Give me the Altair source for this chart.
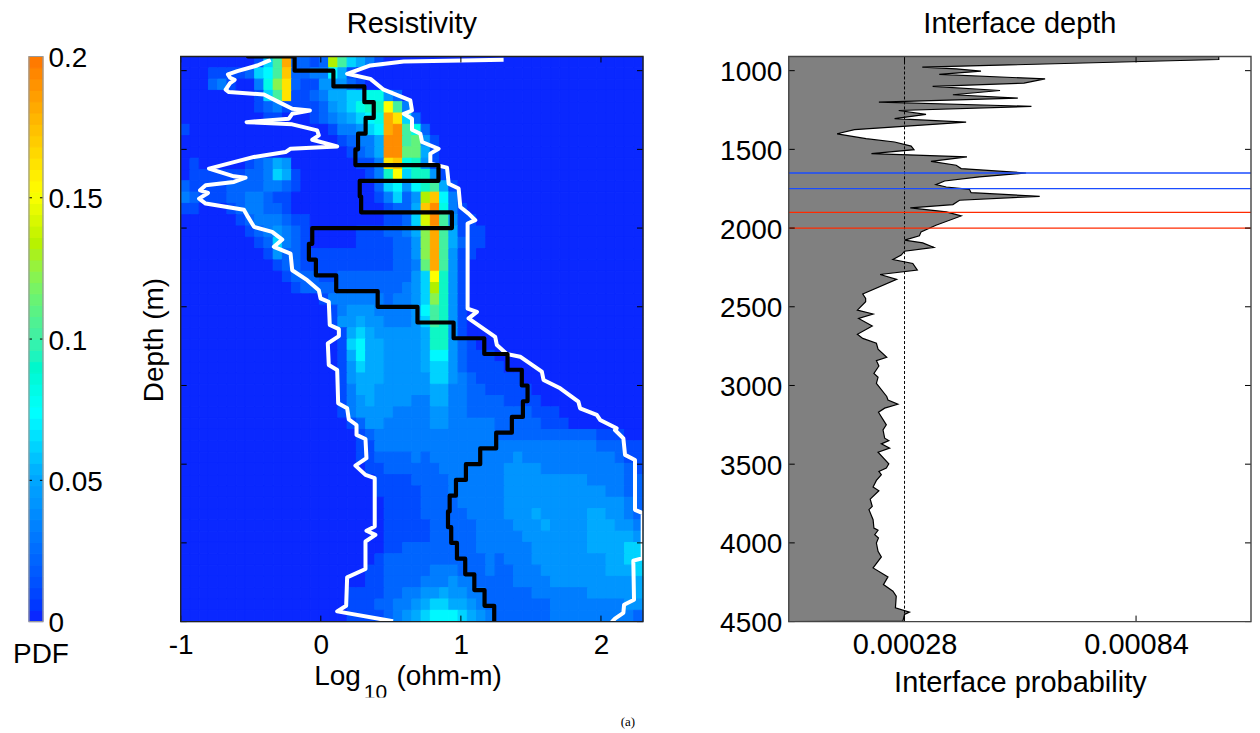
import altair as alt
import pandas as pd

FONT = "Liberation Sans"
FS = 28
W, H = 463, 566

# PDF grid: one character per cell, level = value / 0.01 (0-9, a=10 ... k=20)
pdf_rows = [
"0000000016 ai2212da65 3100000000 0000000000 0000000000",
"0001111267 ah22337510 0000000000 0000000000 0000000000",
"0002310038 cg21144421 0000000000 0000000000 0000000000",
"0000000016 ag11235566 8842000000 0000000000 0000000000",
"0000000012 3111124568 99fa300000 0000000000 0000000000",
"0000000001 1000123456 78ig620000 0000000000 0000000000",
"1000000000 0000001334 67ija82000 0000000000 0000000000",
"0000000000 0000000123 35jjab4100 0000000000 0000000000",
"0000000000 0000000012 35jjbb5100 0000000000 0000000000",
"0100000123 5400000001 13gh894100 0000000000 0000000000",
"0111111223 6510000000 139f699410 0000000000 0000000000",
"2111122223 3210000000 0267479a51 0000000000 0000000000",
"3211122332 1100000000 013624dh73 0000000000 0000000000",
"1100012332 2100000000 001225hj83 1000000000 0000000000",
"0000001233 3211000000 001126eja4 1100000000 0000000000",
"0000000123 4321000001 112235cia5 1110000000 0000000000",
"0000000012 6321000001 111224cia5 2110000000 0000000000",
"0000000001 4221111111 111224cia4 1100000000 0000000000",
"0000000000 1221111111 111223bia4 1000000000 0000000000",
"0000000000 0122211222 2222246f94 1000000000 0000000000",
"0000000000 0012222222 2222346d94 1000000000 0000000000",
"0000000000 0000013333 3323346c94 1000000000 0000000000",
"0000000000 0000001344 4333347a94 1000000000 0000000000",
"0000000000 0000001445 4433346a94 1000000000 0000000000",
"0000000000 0000000156 5444445994 1000000000 0000000000",
"0000000000 0000000167 5544445994 2100000000 0000000000",
"0000000000 0000000157 5544445774 2111000000 0000000000",
"0000000000 0000000146 5544445664 2111100000 0000000000",
"0000000000 0000000145 5544444664 3211111000 0000000000",
"0000000000 0000000135 5444444553 3221111100 0000000000",
"0000000000 0000000134 5444433553 3222211110 0000000000",
"0000000000 0000000134 4443333443 3222222211 1000000000",
"0000000000 0000000012 4433333443 3333222221 1100000000",
"0000000000 0000000001 2333333333 3333222222 2222211100",
"0000000000 0000000001 1333333333 3333333333 3333322211",
"0000000000 0000000001 1222232333 3333334333 3333333211",
"0000000000 0000000000 1122222233 3333344443 3333333321",
"0000000000 0000000000 0111122223 3333344444 4444333322",
"0000000000 0000000000 0111112223 3333344444 4444443322",
"0000000000 0000000000 0011112222 3333344444 4444444432",
"0000000000 0000000000 0011112222 2333344454 4444554432",
"0000000000 0000000000 0011111222 2233334445 4444555443",
"0000000000 0000000000 0011111222 2233333444 4444555554",
"0000000000 0000000000 0011222222 2233333344 4444555566",
"0000000000 0000000000 0122222222 2223233344 4444445566",
"0000000000 0000000000 1122222333 2223223334 4444445556",
"0000000000 0000000000 1122223334 3322223333 4444444445",
"0000000000 0000000011 1122334454 4332222233 3333444445",
"0000000000 0000000011 1223345665 5432222222 3333333344",
"0000000000 0000000011 1123456777 6543222222 3333333332",
]

# mean resistivity per 100 m layer (layer k spans black_depth[k]..black_depth[k+1])
black_depth = [900, 910, 1000, 1100, 1200, 1300, 1400, 1500, 1600, 1700, 1800, 1900, 2000, 2100, 2200, 2300, 2400,
               2500, 2600, 2700, 2800, 2900, 3000, 3100, 3200, 3300, 3400, 3500, 3600, 3700, 3800, 3900,
               4000, 4100, 4200, 4300, 4400, 4500]
black_log = [-0.52, -0.187, 0.09, 0.311, 0.378, 0.32, 0.266, 0.247, 0.84, 0.278, 0.288, 0.936, -0.061, -0.085,
             -0.035, 0.11, 0.406, 0.69, 0.948, 1.167, 1.333, 1.435, 1.476, 1.443, 1.364, 1.252, 1.138, 1.036,
             0.965, 0.92, 0.908, 0.931, 0.972, 1.031, 1.096, 1.169, 1.238]

left_log = [-0.358, -0.454, -0.596, -0.663, -0.648, -0.615, -0.648, -0.679, -0.656, -0.406, -0.299, -0.204, -0.078,
            -0.204, -0.228, -0.530, -0.204, -0.026, -0.014, -0.061, 0.117, -0.216, -0.252, -0.477, -0.798, -0.620,
            -0.537, -0.620, -0.822, -0.862, -0.805, -0.869, -0.822, -0.549, -0.520, -0.477, -0.347, -0.275, -0.335,
            -0.216, -0.204, -0.097, -0.014, -0.002, 0.057, 0.064, 0.129, 0.129, 0.050, 0.057, 0.117, 0.124, 0.188,
            0.200, 0.255, 0.255, 0.319, 0.326, 0.247, 0.319, 0.385, 0.385, 0.326, 0.390, 0.319, 0.319, 0.188, 0.181,
            0.117, 0.516]
left_depth = [931, 967, 1003, 1024, 1045, 1058, 1079, 1121, 1136, 1151, 1200, 1242, 1253, 1274, 1305, 1327, 1341, 1379,
              1411, 1439, 1481, 1496, 1517, 1548, 1622, 1671, 1680, 1707, 1728, 1760, 1777, 1813, 1844, 1883, 1929,
              1992, 2024, 2073, 2119, 2162, 2268, 2331, 2395, 2447, 2469, 2616, 2642, 2686, 2733, 2870, 2902, 3113,
              3145, 3215, 3251, 3314, 3340, 3462, 3509, 3568, 3589, 3896, 3923, 3949, 3991, 4166, 4219, 4399, 4435,
              4498]

right_log = [1.305, 1.008, 0.592, 0.354, 0.188, 0.354, 0.449, 0.639, 0.651, 0.592, 0.651, 0.651, 0.711, 0.723, 0.841,
             0.782, 0.782, 0.901, 0.913, 0.984, 0.996, 1.055, 1.103, 1.048, 1.048, 1.115, 1.055, 1.245, 1.257, 1.328,
             1.423, 1.578, 1.590, 1.709, 1.839, 1.851, 1.970, 1.994, 2.112, 2.100, 2.160, 2.172, 2.243, 2.243, 2.298,
             2.298, 2.231, 2.236, 2.165, 2.160, 2.100, 2.077]
right_depth = [931, 935, 942, 967, 1020, 1052, 1121, 1189, 1253, 1274, 1305, 1375, 1401, 1453, 1496, 1527, 1591, 1616,
               1718, 1749, 1866, 1908, 1950, 1971, 2511, 2532, 2574, 2691, 2743, 2800, 2817, 2912, 2965, 3018, 3103,
               3145, 3187, 3219, 3272, 3283, 3336, 3441, 3473, 3790, 3811, 4097, 4113, 4361, 4393, 4445, 4481, 4503]

# interface probability, in units of 1e-5
prob_vals = [104.0, 104.0, 32.3, 40.5, 46.5, 36.4, 62.0, 56.9, 34.8, 51.1, 39.7, 55.4, 21.8, 58.7, 26.6, 33.2, 25.6,
             42.9, 27.6, 15.9, 11.7, 18.7, 25.6, 29.6, 30.3, 20.0, 43.1, 34.4, 40.5, 41.7, 57.4, 46.1, 37.7, 35.6,
             38.1, 43.7, 44.1, 60.7, 41.3, 39.7, 29.4, 38.1, 41.7, 35.6, 32.0, 31.6, 28.0, 32.4, 35.1, 28.0, 27.2,
             25.2, 30.0, 31.1, 22.1, 26.1, 17.9, 18.6, 18.6, 16.6, 20.4, 16.9, 20.2, 16.6, 17.9, 21.2, 21.6, 23.7,
             21.2, 21.8, 20.6, 21.6, 21.2, 23.7, 24.0, 26.4, 23.2, 21.7, 23.6, 22.8, 23.2, 24.2, 22.4, 24.4, 21.6,
             24.2, 23.6, 21.8, 22.4, 21.2, 20.4, 21.8, 19.7, 20.2, 19.4, 20.4, 20.6, 21.6, 20.8, 21.7, 21.2, 21.6,
             22.4, 20.4, 24.0, 22.9, 25.2, 26.0, 25.8, 29.2, 28.0, 27.6, 0.0]
prob_depth = [910, 929, 978, 988, 1003, 1024, 1052, 1079, 1100, 1126, 1153, 1174, 1200, 1227, 1253, 1278, 1305, 1327,
              1354, 1375, 1401, 1432, 1453, 1479, 1502, 1527, 1548, 1576, 1601, 1622, 1650, 1675, 1701, 1724, 1739,
              1754, 1775, 1798, 1823, 1851, 1872, 1897, 1923, 1982, 2024, 2049, 2077, 2094, 2123, 2147, 2172, 2200,
              2225, 2267, 2295, 2326, 2419, 2447, 2468, 2521, 2546, 2574, 2622, 2675, 2701, 2732, 2770, 2821, 2842,
              2876, 2923, 2948, 2986, 3070, 3092, 3119, 3144, 3170, 3250, 3282, 3335, 3350, 3371, 3398, 3424, 3498,
              3525, 3546, 3567, 3603, 3645, 3669, 3722, 3768, 3789, 3853, 3906, 3920, 3948, 3969, 4001, 4054, 4089,
              4159, 4216, 4265, 4307, 4339, 4413, 4440, 4455, 4497, 4500]

depth_ticks = [1000, 1500, 2000, 2500, 3000, 3500, 4000, 4500]
log_ticks = [-1, 0, 1, 2]
prob_ticks = [0.00028, 0.00084]
cbar_ticks = [0, 0.05, 0.1, 0.15, 0.2]
blue_depths = [1650, 1750]
red_depths = [1900, 2000]

cmap_dom = [0, 0.025, 0.05, 0.072, 0.1, 0.13, 0.15, 0.2]
cmap_rng = ["#0a28ff", "#0070ff", "#00aaff", "#00ffff", "#44f0a0", "#b0f000", "#ffff00", "#ff6e00"]

LOG_DOM = [-1, 2.3]
DEPTH_DOM = [4500, 910]
PROB_DOM = [0, 0.001118]
NROW, NCOL = 50, 50

color_scale = alt.Scale(domain=cmap_dom, range=cmap_rng, clamp=True)
xlog = alt.Scale(domain=LOG_DOM, nice=False, zero=False)
ydep = alt.Scale(domain=DEPTH_DOM, nice=False, zero=False)
xprob = alt.Scale(domain=PROB_DOM, nice=False, zero=False)

# grid table
cells = []
dx = (LOG_DOM[1] - LOG_DOM[0]) / NCOL
dy = (DEPTH_DOM[0] - DEPTH_DOM[1]) / NROW
for j, r in enumerate(pdf_rows):
    for i, c in enumerate(r.replace(" ", "")):
        cells.append({"x": LOG_DOM[0] + i * dx, "x2": LOG_DOM[0] + (i + 1) * dx,
                      "y": DEPTH_DOM[1] + j * dy, "y2": DEPTH_DOM[1] + (j + 1) * dy,
                      "p": int(c, 36) * 0.01})
cells = pd.DataFrame(cells)


def frame(w, h, color="#222222", sw=1.4, x0=0):
    return alt.Chart(pd.DataFrame({"a": [0]})).mark_rect(fillOpacity=0, stroke=color, strokeWidth=sw).encode(
        x=alt.value(x0), x2=alt.value(w), y=alt.value(0), y2=alt.value(h))


def yticks(vals, scale, w, L=6):
    d = pd.DataFrame({"d": vals})
    a = alt.Chart(d).mark_rule(color="black", strokeWidth=1).encode(
        y=alt.Y("d:Q", scale=scale), x=alt.value(0), x2=alt.value(L))
    b = alt.Chart(d).mark_rule(color="black", strokeWidth=1).encode(
        y=alt.Y("d:Q", scale=scale), x=alt.value(w - L), x2=alt.value(w))
    return a + b


def xticks(vals, scale, h, L=6):
    d = pd.DataFrame({"v": vals})
    a = alt.Chart(d).mark_rule(color="black", strokeWidth=1).encode(
        x=alt.X("v:Q", scale=scale), y=alt.value(0), y2=alt.value(L))
    b = alt.Chart(d).mark_rule(color="black", strokeWidth=1).encode(
        x=alt.X("v:Q", scale=scale), y=alt.value(h - L), y2=alt.value(h))
    return a + b


def poly(xs, ys, color, sw):
    d = pd.DataFrame({"x": xs, "y": ys, "i": range(len(xs))})
    return alt.Chart(d).mark_line(color=color, strokeWidth=sw, clip=True, strokeJoin="round").encode(
        x=alt.X("x:Q", scale=xlog, title=None), y=alt.Y("y:Q", scale=ydep, title=None), order="i:Q")


def txt(text, x, y, size=FS, font=FONT, align="center", angle=0):
    return alt.Chart(pd.DataFrame({"t": [text]})).mark_text(
        font=font, fontSize=size, align=align, baseline="alphabetic", color="black", angle=angle).encode(
        x=alt.value(x), y=alt.value(y), text="t:N")


# colour bar: panel is 6 px wide, so all the gaps between panels are equal; the bar runs over it to 14 px
cb_rows = pd.DataFrame({"p": [i * 0.004 for i in range(50)]})
cb_rows["top"] = cb_rows["p"] + 0.004
cb_scale = alt.Scale(domain=[0, 0.2], nice=False, zero=False)
cb = alt.Chart(cb_rows).mark_rect().encode(
    y=alt.Y("p:Q", scale=cb_scale, axis=alt.Axis(orient="right", offset=8, values=cbar_ticks, tickSize=0, domain=False,
            grid=False, labelFont=FONT, labelFontSize=FS, labelColor="black", labelPadding=5, title=None,
            labelExpr="datum.value", labelOverlap=False, labelFlush=False, labelOffset=2)),
    y2="top:Q",
    x=alt.value(0), x2=alt.value(14),
    color=alt.Color("p:Q", scale=color_scale, legend=None),
    stroke=alt.Stroke("p:Q", scale=color_scale, legend=None),
)
cb_tick_d = pd.DataFrame({"p": cbar_ticks[1:-1]})
cb_ticks = (alt.Chart(cb_tick_d).mark_rule(color="black", strokeWidth=1).encode(
                y=alt.Y("p:Q", scale=cb_scale), x=alt.value(0), x2=alt.value(3))
            + alt.Chart(cb_tick_d).mark_rule(color="black", strokeWidth=1).encode(
                y=alt.Y("p:Q", scale=cb_scale), x=alt.value(11), x2=alt.value(14)))
cbar = alt.layer(cb, cb_ticks, frame(14, H, "#999999", 1.2), txt("PDF", 12, H + 41)).properties(width=6, height=H)

# resistivity panel
heat = alt.Chart(cells).mark_rect().encode(
    x=alt.X("x:Q", scale=xlog, axis=alt.Axis(values=log_ticks, tickSize=0, domain=False, grid=False, labelFont=FONT,
            labelFontSize=FS, labelColor="black", labelPadding=10, title=None, labelFlush=False, labelExpr="datum.value")),
    x2="x2:Q",
    y=alt.Y("y:Q", scale=ydep, axis=None),
    y2="y2:Q",
    color=alt.Color("p:Q", scale=color_scale, legend=None),
    stroke=alt.Stroke("p:Q", scale=color_scale, legend=None),
)
bx = [v for v in black_log for _ in (0, 1)]
by = [d for k in range(len(black_log)) for d in (black_depth[k], black_depth[k + 1])]
# the subscript's foot is cut off in the reference
sub_cut = alt.Chart(pd.DataFrame({"a": [0]})).mark_rect(color="white").encode(
    x=alt.value(180), x2=alt.value(212), y=alt.value(H + 76), y2=alt.value(H + 82))
mid = alt.layer(
    heat,
    poly(left_log, left_depth, "white", 4),
    poly(right_log, right_depth, "white", 4),
    poly(bx, by, "black", 4.2),
    xticks(log_ticks, xlog, H), yticks(depth_ticks, ydep, W),
    frame(W, H),
    txt("Log", 157, H + 64), txt("10", 195, H + 78, 21), sub_cut, txt("(ohm-m)", 216, H + 64, align="left"),
    txt("Depth (m)", -18, 284, angle=270),
    txt("(a)", 448, H + 105, 13, "Liberation Serif"),
).properties(width=W, height=H, title=alt.TitleParams("Resistivity", font=FONT, fontSize=FS + 1, fontWeight="normal",
                                                       color="black", offset=17))

# interface panel
prob = pd.DataFrame({"v": [v * 1e-5 for v in prob_vals], "d": prob_depth})
area = alt.Chart(prob).mark_area(orient="horizontal", color="#808080", clip=True).encode(
    x=alt.X("v:Q", scale=xprob, axis=alt.Axis(values=prob_ticks, format=".5f", tickSize=0, domain=False, grid=False,
            labelFont=FONT, labelFontSize=FS + 1, labelColor="black", labelPadding=9, title="Interface probability",
            titleFont=FONT, titleFontSize=FS + 1, titleFontWeight="normal", titleColor="black", titlePadding=9)),
    y=alt.Y("d:Q", scale=ydep, axis=alt.Axis(values=depth_ticks, format="d", tickSize=0, domain=False, grid=False,
            labelFont=FONT, labelFontSize=FS, labelColor="black", labelPadding=7, title=None, labelFlush=False,
            labelOverlap=False, labelOffset=2)),
)
pline = alt.Chart(prob).mark_line(color="black", strokeWidth=1.2, clip=True).encode(
    x=alt.X("v:Q", scale=xprob), y=alt.Y("d:Q", scale=ydep), order="d:Q")
dash = alt.Chart(pd.DataFrame({"v": prob_ticks[:1]})).mark_rule(color="black", strokeWidth=1, strokeDash=[3, 2]).encode(
    x=alt.X("v:Q", scale=xprob))
blue = alt.Chart(pd.DataFrame({"d": blue_depths})).mark_rule(color="#1a4cff", strokeWidth=1.3).encode(
    y=alt.Y("d:Q", scale=ydep))
red = alt.Chart(pd.DataFrame({"d": red_depths})).mark_rule(color="#ff2a00", strokeWidth=1.3).encode(
    y=alt.Y("d:Q", scale=ydep))
right = alt.layer(area, pline, dash, blue, red, xticks(prob_ticks, xprob, H), yticks(depth_ticks, ydep, W),
                  frame(W, H, "#444444", 1.4)).properties(
    width=W, height=H, title=alt.TitleParams("Interface depth", font=FONT, fontSize=FS + 1, fontWeight="normal",
                                             color="black", offset=17))

chart = alt.hconcat(cbar, mid, right, spacing=146, bounds="flush").properties(
    padding={"left": 5, "top": 1, "right": 0, "bottom": 0}, background="white"
).configure_view(stroke=None)

chart.save("out.html", embed_options={"renderer": "svg", "actions": False})
